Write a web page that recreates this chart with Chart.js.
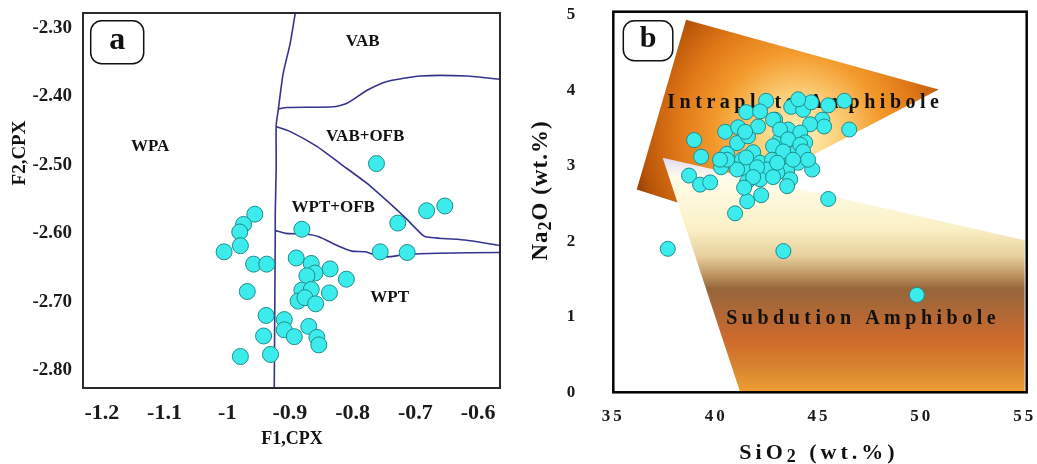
<!DOCTYPE html>
<html>
<head>
<meta charset="utf-8">
<title>CPX and amphibole discrimination diagrams</title>
<script src="https://cdn.jsdelivr.net/npm/chart.js@4.4.1/dist/chart.umd.min.js"></script>
<style>
  body { margin: 0; background: #fff; }
  #wrap { position: relative; width: 1037px; height: 464px; }
  .panel { position: absolute; top: 0; height: 464px; }
  #panelA { left: 0; width: 520px; }
  #panelB { left: 520px; width: 517px; }
</style>
</head>
<body>
<div id="wrap">
  <div class="panel" id="panelA"><canvas id="cpxChart"></canvas></div>
  <div class="panel" id="panelB"><canvas id="amphChart"></canvas></div>
</div>
<script>
// ---- (a) clinopyroxene F1-F2 discriminant diagram ----
const cpxF1 = [-0.956, -0.974, -0.980, -0.979, -1.005, -0.881, -0.958, -0.937, -0.890, -0.866,
               -0.836, -0.860, -0.873, -0.810, -0.968, -0.881, -0.866, -0.837, -0.887, -0.876,
               -0.859, -0.938, -0.909, -0.909, -0.893, -0.870, -0.857, -0.854, -0.942, -0.979,
               -0.931, -0.762, -0.682, -0.653, -0.728, -0.756, -0.713];
const cpxF2 = [-2.572, -2.587, -2.598, -2.618, -2.627, -2.594, -2.645, -2.645, -2.636, -2.644,
               -2.652, -2.658, -2.662, -2.667, -2.685, -2.683, -2.682, -2.687, -2.699, -2.694,
               -2.703, -2.720, -2.726, -2.741, -2.751, -2.736, -2.752, -2.763, -2.750, -2.780,
               -2.777, -2.498, -2.567, -2.560, -2.585, -2.627, -2.628];

// field boundaries, [F1, F2]
const lineWPA = [[-0.8915, -2.278], [-0.8995, -2.322], [-0.9107, -2.366], [-0.9166, -2.405], [-0.9182, -2.417],
                 [-0.9219, -2.442], [-0.9219, -2.503], [-0.9234, -2.570], [-0.9234, -2.599], [-0.925, -2.826]];
const lineVAB = [[-0.918, -2.418], [-0.905, -2.416], [-0.831, -2.415], [-0.809, -2.410], [-0.777, -2.391],
                 [-0.745, -2.378], [-0.692, -2.370], [-0.618, -2.370], [-0.564, -2.375]];
const lineOFB = [[-0.922, -2.444], [-0.900, -2.451], [-0.857, -2.473], [-0.820, -2.498], [-0.777, -2.527],
                 [-0.735, -2.561], [-0.713, -2.580], [-0.697, -2.595], [-0.684, -2.605], [-0.618, -2.610],
                 [-0.564, -2.618]];
const lineWPT = [[-0.923, -2.596], [-0.907, -2.600], [-0.876, -2.601], [-0.854, -2.605], [-0.822, -2.619],
                 [-0.801, -2.626], [-0.780, -2.627], [-0.756, -2.634], [-0.740, -2.634], [-0.716, -2.631],
                 [-0.663, -2.629], [-0.564, -2.628]];

const cpxFieldNames = ['VAB', 'VAB+OFB', 'WPA', 'WPT+OFB', 'WPT'];
const cpxFieldAt = [[-0.784, -2.320], [-0.780, -2.459], [-1.123, -2.473], [-0.831, -2.563], [-0.741, -2.694]];

const cpxTicksF1 = [-1.2, -1.1, -1, -0.9, -0.8, -0.7, -0.6];
const cpxTicksF2 = [-2.8, -2.7, -2.6, -2.5, -2.4, -2.3];

// ---- (b) amphibole SiO2 vs Na2O ----
const amphSiO2 = [38.93, 39.27, 38.68, 39.22, 39.71, 40.24, 40.53, 40.44, 41.07, 41.46,
                  42.43, 41.02, 41.55, 42.04, 42.87, 43.50, 43.65, 44.23, 44.62, 45.45,
                  46.23, 45.16, 45.25, 46.47, 44.57, 44.09, 43.11, 42.77, 41.80, 41.26,
                  41.51, 42.14, 42.72, 43.45, 43.94, 44.33, 44.67, 43.99, 43.45, 43.60,
                  43.45, 42.97, 42.48, 42.14, 41.51, 41.02, 40.53, 41.51, 42.19, 40.92,
                  45.45, 43.99, 42.14, 42.77, 41.41, 43.11, 43.50, 44.09, 43.26, 44.23,
                  41.46, 42.97, 43.74, 44.47, 41.99, 41.80, 42.77, 40.19, 41.36,
                  37.65, 43.27, 49.76];
const amphNa2O = [3.34, 3.12, 2.87, 2.75, 2.78, 2.98, 3.16, 3.45, 3.51, 3.71,
                  3.86, 3.30, 3.39, 3.52, 3.61, 3.48, 3.78, 3.74, 3.84, 3.80,
                  3.86, 3.61, 3.52, 3.48, 3.55, 3.44, 3.35, 3.26, 3.18, 3.08,
                  2.95, 3.04, 3.08, 3.12, 3.19, 3.31, 2.95, 3.04, 2.93, 2.82,
                  2.73, 2.91, 2.95, 2.82, 2.79, 2.95, 3.08, 2.53, 2.61, 2.37,
                  2.56, 3.88, 3.72, 3.61, 3.45, 3.48, 3.35, 3.28, 3.19, 3.19,
                  3.11, 3.04, 3.08, 3.08, 2.98, 2.85, 2.85, 3.08, 2.71,
                  1.90, 1.87, 1.29];

// field outlines, [SiO2, Na2O]
const intraplateField = [[38.54, 4.934], [50.82, 4.009], [39.44, 2.396], [36.14, 2.687], [38.54, 4.934]];
const subductionField = [[37.40, 3.106], [55.0, 2.013], [55.0, 0], [41.17, 0], [37.40, 3.106]];

const amphFieldNames = ['Intraplate Amphibole', 'Subdution Amphibole'];
const amphFieldAt = [[44.23, 3.837], [47.04, 0.978]];

const amphTicksSiO2 = [35, 40, 45, 50, 55];
const amphTicksNa2O = [0, 1, 2, 3, 4, 5];

const SERIF = "'Liberation Serif', 'Times New Roman', serif";
const toXY = pairs => pairs.map(([x, y]) => ({ x, y }));
const zipXY = (xs, ys) => xs.map((x, i) => ({ x, y: ys[i] }));

function richText(ctx, parts, cx, cy, size, spacing, angle) {
  ctx.save();
  ctx.translate(cx, cy);
  ctx.rotate(angle || 0);
  ctx.letterSpacing = spacing + 'px';
  ctx.textAlign = 'left';
  ctx.textBaseline = 'middle';
  ctx.fillStyle = '#111';
  const fontFor = sub => `bold ${sub ? Math.round(size * 0.8) : size}px ${SERIF}`;
  let total = 0;
  parts.forEach(([t, sub]) => { ctx.font = fontFor(sub); total += ctx.measureText(t).width; });
  let x = -(total - spacing) / 2;
  parts.forEach(([t, sub]) => {
    ctx.font = fontFor(sub);
    ctx.fillText(t, x, sub ? size * 0.22 : 0);
    x += ctx.measureText(t).width;
  });
  ctx.restore();
}

// frame, panel letter, axis titles and field names
const panelText = {
  id: 'panelText',
  beforeUpdate(chart, args, opts) { chart.ctx.letterSpacing = opts.tickSpacing; },
  beforeDraw(chart, args, opts) { chart.ctx.letterSpacing = opts.tickSpacing; },
  afterDatasetDraw(chart, args, opts) {
    if (args.index !== 1) return;
    const { ctx, scales } = chart;
    opts.names.forEach((name, i) => {
      const [vx, vy] = opts.at[i];
      richText(ctx, [[name]], scales.x.getPixelForValue(vx), scales.y.getPixelForValue(vy),
               opts.nameSize, opts.nameSpacing, 0);
    });
  },
  afterDraw(chart, args, opts) {
    const { ctx, chartArea: a } = chart;
    ctx.save();
    ctx.strokeStyle = opts.frameColor;
    ctx.lineWidth = opts.frameWidth;
    ctx.strokeRect(a.left, a.top, a.right - a.left, a.bottom - a.top);
    const L = opts.letter;
    ctx.lineWidth = 1.5;
    ctx.strokeStyle = '#111';
    ctx.beginPath();
    ctx.roundRect(a.left + L.dx, a.top + L.dy, L.w, L.h, 11);
    ctx.stroke();
    ctx.restore();
    richText(ctx, [[L.text]], a.left + L.dx + L.w / 2, a.top + L.dy + L.h / 2 - 1, L.size, 0, 0);
    opts.titles.forEach(t => richText(ctx, t.parts, t.x, t.y, t.size, t.spacing, t.angle));
  }
};

// axis with a fixed box size and no label overhang, so the plot frame sits where it should
function axisOpts(min, max, list, fmt, size, pad, boxSize) {
  return {
    type: 'linear', min, max,
    grid: { display: false, drawTicks: false },
    border: { display: false },
    afterBuildTicks: s => { s.ticks = list.map(v => ({ value: v })); },
    afterFit: s => {
      if (s.isHorizontal()) s.height = boxSize; else s.width = boxSize;
      s.paddingTop = s.paddingBottom = s.paddingLeft = s.paddingRight = 0;
    },
    ticks: {
      autoSkip: false, maxRotation: 0, minRotation: 0, padding: pad, color: '#1a1a1a',
      font: { family: SERIF, size, weight: 'bold', lineHeight: 1 },
      callback: fmt
    }
  };
}

const pointStyle = r => ({
  pointRadius: r, pointHoverRadius: r,
  pointBackgroundColor: '#3cecec', pointBorderColor: '#1f8c8c', pointBorderWidth: 1
});

const boundary = pts => ({
  type: 'line', data: toXY(pts), order: 1,
  borderColor: '#34348c', borderWidth: 1.6, pointRadius: 0, tension: 0.2, fill: false
});

new Chart(document.getElementById('cpxChart'), {
  type: 'scatter',
  data: {
    datasets: [
      { data: zipXY(cpxF1, cpxF2), order: 0, ...pointStyle(8) },
      boundary(lineWPA), boundary(lineVAB), boundary(lineOFB), boundary(lineWPT)
    ]
  },
  options: {
    responsive: true, maintainAspectRatio: false, animation: false,
    layout: { padding: { left: 0, top: 13, right: 20, bottom: 0 } },
    scales: {
      x: axisOpts(-1.23, -0.565, cpxTicksF1, v => String(v), 22, 14, 76),
      y: axisOpts(-2.826, -2.278, cpxTicksF2, v => v.toFixed(2), 19, 11, 83)
    },
    plugins: {
      legend: { display: false },
      tooltip: { enabled: false },
      panelText: {
        tickSpacing: '0px',
        frameColor: '#2a2a2a', frameWidth: 2,
        letter: { text: 'a', dx: 7.7, dy: 7.7, w: 53, h: 43, size: 32 },
        names: cpxFieldNames, at: cpxFieldAt, nameSize: 17, nameSpacing: 0,
        titles: [
          { parts: [['F1,CPX']], x: 292, y: 439, size: 18, spacing: 0, angle: 0 },
          { parts: [['F2,CPX']], x: 20, y: 153, size: 19, spacing: 0, angle: -Math.PI / 2 }
        ]
      }
    }
  },
  plugins: [panelText]
});

// warm glow centred behind the sample cluster, darkening towards the corners
function intraplateFill(c) {
  const { chart } = c;
  const { chartArea, scales } = chart;
  if (!chartArea) return 'rgba(0,0,0,0)';
  const cx = scales.x.getPixelForValue(44.0), cy = scales.y.getPixelForValue(3.4);
  const g = chart.ctx.createRadialGradient(cx, cy, 0, cx, cy, 185);
  g.addColorStop(0, '#fff2c0');
  g.addColorStop(0.22, '#fcd07a');
  g.addColorStop(0.45, '#f39a2c');
  g.addColorStop(0.65, '#e07818');
  g.addColorStop(0.85, '#b85408');
  g.addColorStop(1, '#6e2800');
  return g;
}

function subductionFill(c) {
  const { chart } = c;
  const { chartArea, scales } = chart;
  if (!chartArea) return 'rgba(0,0,0,0)';
  const top = scales.y.getPixelForValue(3.106), bottom = scales.y.getPixelForValue(0);
  const g = chart.ctx.createLinearGradient(0, top, 0, bottom);
  g.addColorStop(0, '#dcdaf2');
  g.addColorStop(0.08, '#fffceb');
  g.addColorStop(0.3, '#fbf1c6');
  g.addColorStop(0.42, '#e6cf9c');
  g.addColorStop(0.5, '#be9460');
  g.addColorStop(0.56, '#96653a');
  g.addColorStop(0.65, '#ad6836');
  g.addColorStop(0.78, '#cf6a2c');
  g.addColorStop(0.9, '#d8862e');
  g.addColorStop(1, '#ee9e34');
  return g;
}

new Chart(document.getElementById('amphChart'), {
  type: 'scatter',
  data: {
    datasets: [
      { data: zipXY(amphSiO2, amphNa2O), order: 0, ...pointStyle(7.5) },
      { type: 'line', data: toXY(subductionField), order: 1, fill: 'shape', backgroundColor: subductionFill,
        borderWidth: 0, pointRadius: 0, tension: 0 },
      { type: 'line', data: toXY(intraplateField), order: 2, fill: 'shape', backgroundColor: intraplateFill,
        borderWidth: 0, pointRadius: 0, tension: 0 }
    ]
  },
  options: {
    responsive: true, maintainAspectRatio: false, animation: false,
    layout: { padding: { left: 0, top: 11.7, right: 10.3, bottom: 0 } },
    scales: {
      x: axisOpts(35, 55.1, amphTicksSiO2, v => String(v), 17, 16, 71.7),
      y: axisOpts(0, 5.04, amphTicksNa2O, v => String(v), 17, 35, 93.3)
    },
    plugins: {
      legend: { display: false },
      tooltip: { enabled: false },
      panelText: {
        tickSpacing: '3px',
        frameColor: '#000', frameWidth: 2.5,
        letter: { text: 'b', dx: 10, dy: 9, w: 49.5, h: 40, size: 30 },
        names: amphFieldNames, at: amphFieldAt, nameSize: 20, nameSpacing: 4.5,
        titles: [
          { parts: [['SiO'], ['2', true], [' (wt.%)']], x: 297, y: 453, size: 22, spacing: 4, angle: 0 },
          { parts: [['Na'], ['2', true], ['O (wt.%)']], x: 21, y: 191, size: 23, spacing: 1, angle: -Math.PI / 2 }
        ]
      }
    }
  },
  plugins: [panelText]
});
</script>
</body>
</html>
